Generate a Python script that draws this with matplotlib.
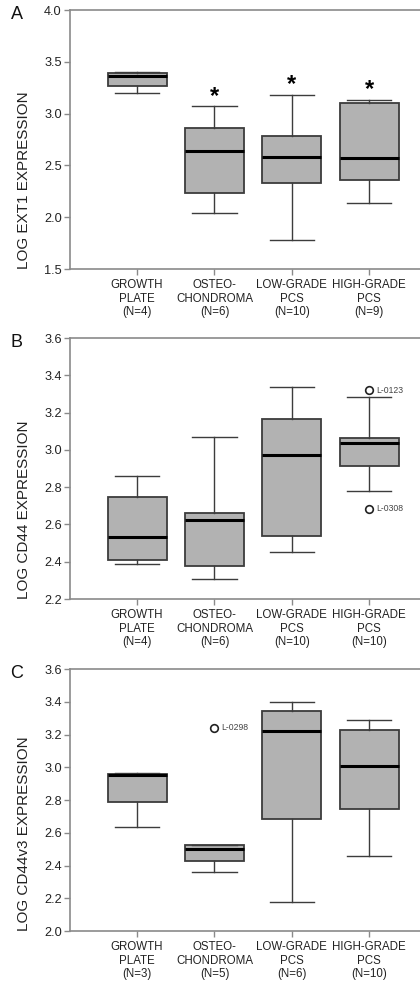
import matplotlib
matplotlib.use("Agg")
import matplotlib.pyplot as plt

plt.rcParams['font.family'] = ['Liberation Sans', 'DejaVu Sans']

categories = ["GROWTH\nPLATE", "OSTEO-\nCHONDROMA", "LOW-GRADE\nPCS", "HIGH-GRADE\nPCS"]

# Panel A: LOG EXT1
a_n = [4, 6, 10, 9]
a_whislo = [3.20, 2.04, 1.78, 2.14]
a_q1 = [3.27, 2.23, 2.33, 2.355]
a_med = [3.36, 2.64, 2.585, 2.57]
a_q3 = [3.39, 2.86, 2.785, 3.10]
a_whishi = [3.40, 3.07, 3.18, 3.135]
a_star = [False, True, True, True]

# Panel B: LOG CD44
b_n = [4, 6, 10, 10]
b_whislo = [2.39, 2.307, 2.452, 2.778]
b_q1 = [2.411, 2.375, 2.536, 2.915]
b_med = [2.534, 2.624, 2.975, 3.036]
b_q3 = [2.749, 2.663, 3.168, 3.065]
b_whishi = [2.858, 3.071, 3.339, 3.282]
b_out_group = [4, 4]
b_out_val = [3.319, 2.683]
b_out_lab = ["L-0123", "L-0308"]

# Panel C: LOG CD44v3
c_n = [3, 5, 6, 10]
c_whislo = [2.634, 2.361, 2.177, 2.459]
c_q1 = [2.791, 2.426, 2.685, 2.744]
c_med = [2.950, 2.499, 3.219, 3.009]
c_q3 = [2.960, 2.528, 3.341, 3.225]
c_whishi = [2.968, 2.528, 3.400, 3.290]
c_out_group = [2]
c_out_val = [3.241]
c_out_lab = ["L-0298"]

panels = [
    dict(letter="A", ylabel="LOG EXT1 EXPRESSION", n=a_n, lo=a_whislo, q1=a_q1, med=a_med,
         q3=a_q3, hi=a_whishi, ylim=(1.5, 4.0), yticks=[1.5, 2.0, 2.5, 3.0, 3.5, 4.0],
         star=a_star, og=[], ov=[], ol=[], rect=[0.1667, 0.726, 0.86, 0.2638]),
    dict(letter="B", ylabel="LOG CD44 EXPRESSION", n=b_n, lo=b_whislo, q1=b_q1, med=b_med,
         q3=b_q3, hi=b_whishi, ylim=(2.2, 3.6), yticks=[2.2, 2.4, 2.6, 2.8, 3.0, 3.2, 3.4, 3.6],
         star=[False] * 4, og=b_out_group, ov=b_out_val, ol=b_out_lab, rect=[0.1667, 0.390, 0.86, 0.2658]),
    dict(letter="C", ylabel="LOG CD44v3 EXPRESSION", n=c_n, lo=c_whislo, q1=c_q1, med=c_med,
         q3=c_q3, hi=c_whishi, ylim=(2.0, 3.6), yticks=[2.0, 2.2, 2.4, 2.6, 2.8, 3.0, 3.2, 3.4, 3.6],
         star=[False] * 4, og=c_out_group, ov=c_out_val, ol=c_out_lab, rect=[0.1667, 0.0519, 0.86, 0.2668]),
]

fig = plt.figure(figsize=(4.2, 9.82), dpi=100)
spine_col = "#8a8a8a"
edge_col = "#3c3c3c"

for p in panels:
    ax = fig.add_axes(p["rect"])
    stats = []
    for i in range(4):
        stats.append(dict(whislo=p["lo"][i], q1=p["q1"][i], med=p["med"][i],
                          q3=p["q3"][i], whishi=p["hi"][i], fliers=[]))
    ax.bxp(stats, positions=[1, 2, 3, 4], widths=0.76, patch_artist=True,
           showfliers=False, capwidths=0.57,
           boxprops=dict(facecolor="#b2b2b2", edgecolor=edge_col, linewidth=1.3),
           whiskerprops=dict(color=edge_col, linewidth=1.0),
           capprops=dict(color=edge_col, linewidth=1.0),
           medianprops=dict(color="black", linewidth=2.2))
    for g, v, lab in zip(p["og"], p["ov"], p["ol"]):
        ax.plot([g], [v], marker="o", markersize=5.5, markerfacecolor="white",
                markeredgecolor="#222222", markeredgewidth=1.2, linestyle="none", zorder=5)
        ax.annotate(lab, (g, v), xytext=(5, 0), textcoords="offset points",
                    fontsize=6.2, color="#444444", va="center", ha="left")
    for i, s in enumerate(p["star"]):
        if s:
            ax.annotate("*", (i + 1, p["hi"][i]), xytext=(0, -1), textcoords="offset points",
                        ha="center", va="bottom", fontsize=17, fontweight="bold", color="black")
    ax.set_xlim(0.1333, 4.8)
    ax.set_ylim(*p["ylim"])
    ax.set_yticks(p["yticks"])
    ax.set_yticklabels([f"{t:.1f}" for t in p["yticks"]], fontsize=9.2, color="#222222")
    ax.set_xticks([1, 2, 3, 4])
    ax.set_xticklabels([f"{c}\n(N={n})" for c, n in zip(categories, p["n"])],
                       fontsize=8.3, color="#222222", linespacing=1.2)
    for side in ["left", "top", "bottom"]:
        ax.spines[side].set_color(spine_col)
        ax.spines[side].set_linewidth(1.2)
    ax.spines["right"].set_visible(False)
    ax.tick_params(axis="both", direction="out", length=4, width=1.0, color=spine_col, pad=2)
    ax.tick_params(axis="x", pad=3)
    r = p["rect"]
    fig.text(0.057, r[1], p["ylabel"], rotation=90, ha="center", va="bottom",
             fontsize=11, color="#222222")
    fig.text(0.04, r[1] + r[3] - 0.005, p["letter"], ha="center", va="center",
             fontsize=13, color="#111111")

fig.savefig("out.png", dpi=100)
